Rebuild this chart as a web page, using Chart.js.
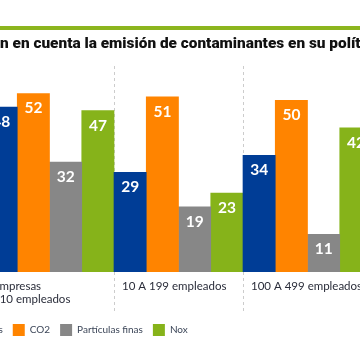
<!DOCTYPE html>
<html><head><meta charset="utf-8">
<script src="https://cdn.jsdelivr.net/npm/chart.js@4"></script>
<style>
html,body{margin:0;padding:0;width:360px;height:360px;overflow:hidden;background:#fff;position:relative}
#rule{position:absolute;left:0;top:26px;width:360px;height:4px;background:#8cb51e}
#title{position:absolute;left:0;top:33px;white-space:nowrap;font:900 15.4px Roboto;color:#111;line-height:20px}
#title span{position:absolute;right:100%;top:0}
#wrap{position:absolute;top:0;height:360px}
</style></head><body>
<div id="wrap"><canvas id="c"></canvas></div>
<div id="rule"></div>
<div id="title"><span>¿Las empresas tiene</span>n en cuenta la emisión de contaminantes en su política medioambiental?</div>
<script>
const categories = [["Empresas", "<10 empleados"], "10 A 199 empleados", "100 A 499 empleados"];
const seriesNames = ["COVs", "CO2", "Partículas finas", "Nox"];
const covs = [48, 29, 34];
const co2 = [52, 51, 50];
const particulas = [32, 19, 11];
const nox = [47, 23, 42];
const colors = ['#003d96', '#ff8400', '#878787', '#86b31a'];

const LEG_FONT = {family: 'Lato', size: 10};
const mctx = document.createElement('canvas').getContext('2d');
mctx.font = LEG_FONT.size + 'px ' + LEG_FONT.family;
const w0 = mctx.measureText(seriesNames[0]).width;
const C = Math.round(10 + 12 + LEG_FONT.size / 2 + w0 - 3);
const CHART_LEFT = -15, CHART_RIGHT = 372;
const wrap = document.getElementById('wrap');
const cv = document.getElementById('c');
wrap.style.left = (-C) + 'px';
cv.width = C + CHART_RIGHT; cv.height = 360;
const catW = (CHART_RIGHT - CHART_LEFT) / categories.length;

const valueLabels = {
  id: 'valueLabels',
  afterDatasetsDraw(chart) {
    const ctx = chart.ctx;
    ctx.save();
    ctx.font = 'bold 15.5px Lato';
    ctx.fillStyle = '#fff';
    ctx.textAlign = 'center';
    ctx.textBaseline = 'middle';
    chart.data.datasets.forEach((ds, i) => {
      chart.getDatasetMeta(i).data.forEach((bar, j) => {
        ctx.fillText(String(ds.data[j]), bar.x, bar.y + 15);
      });
    });
    ctx.restore();
  }
};

const dataArrays = [covs, co2, particulas, nox];
new Chart(cv, {
  type: 'bar',
  data: {
    labels: categories,
    datasets: dataArrays.map((d, i) => ({
      label: seriesNames[i], data: d, backgroundColor: colors[i],
      categoryPercentage: 1, barPercentage: 1, borderWidth: 0
    }))
  },
  options: {
    responsive: false, animation: false,
    layout: {padding: {top: 66, bottom: 14, left: 0, right: 0}},
    scales: {
      x: {
        offset: true,
        grid: {offset: true, color: '#cccccc', lineWidth: 1, tickLength: 40, tickColor: '#cccccc', tickBorderDash: [3, 3]},
        border: {display: false, dash: [3, 3]},
        ticks: {align: 'start', labelOffset: -catW / 2 + 8, padding: -33, maxRotation: 0, autoSkip: false,
          color: '#2a2d3a', font: {family: 'Lato', size: 11.5}},
        afterFit(s) { s.height = 42; s.paddingLeft = 0; s.paddingRight = 0; }
      },
      y: {
        min: 0, max: 60,
        grid: {display: false}, border: {display: false},
        ticks: {display: false},
        afterFit(s) { s.width = C + CHART_LEFT; }
      }
    },
    plugins: {
      legend: {position: 'bottom', align: 'start',
        labels: {boxWidth: 12, boxHeight: 12, padding: 10, color: '#3c4658', font: LEG_FONT}},
      tooltip: {enabled: false},
      title: {display: false}
    }
  },
  plugins: [valueLabels]
});
</script>
</body></html>
